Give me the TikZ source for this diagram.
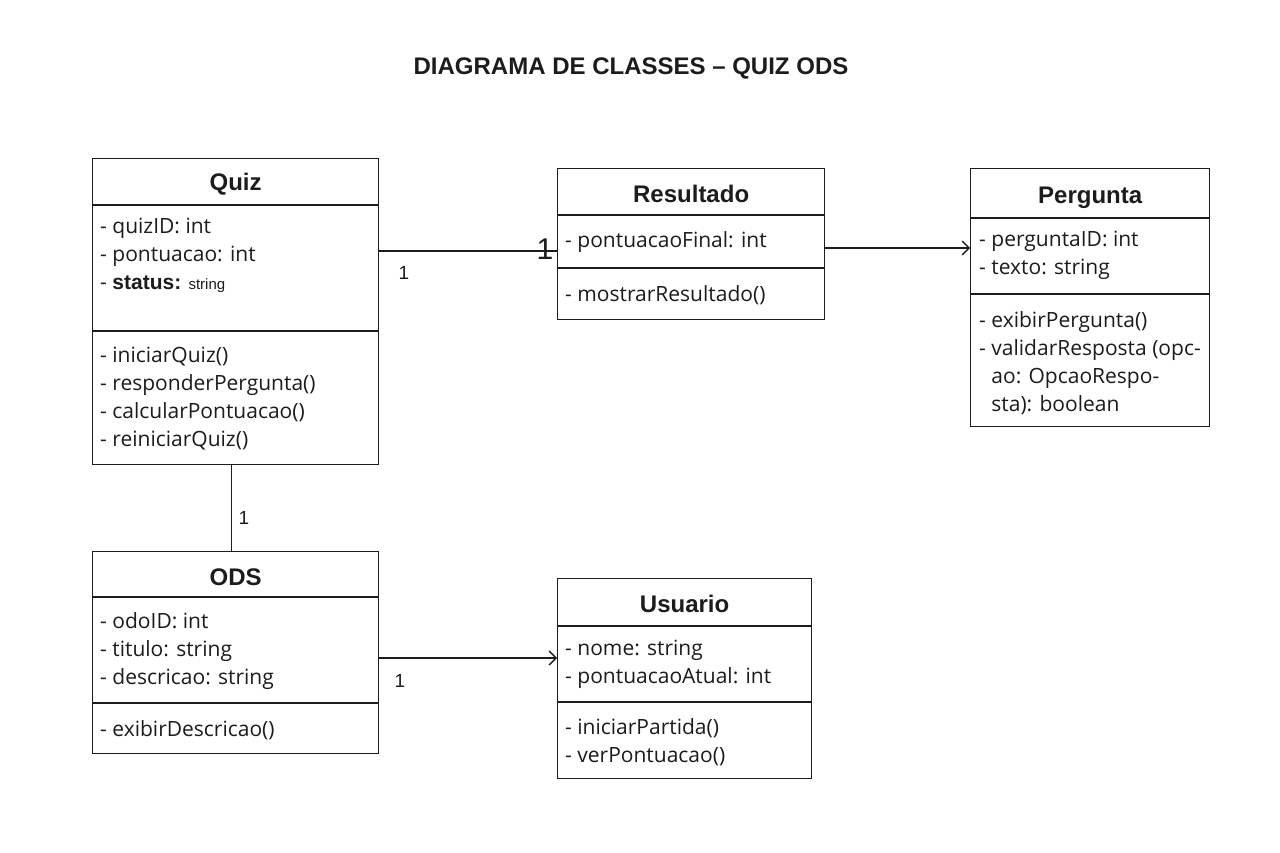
\documentclass[tikz,border=0pt]{standalone}
\usepackage{fontspec}
\setmainfont{Open Sans}
\newfontfamily\headfont{Liberation Sans}
\usetikzlibrary{arrows.meta,positioning,calc}

\definecolor{ink}{HTML}{1C1C1C}

\tikzset{
  classbox/.style={draw=ink, line width=1.3pt, anchor=north west, inner sep=0pt},
  classname/.style={font=\headfont\fontsize{24}{28}\selectfont\bfseries, text=ink},
  member/.style={font=\fontsize{21}{28}\selectfont, text=ink, align=left, anchor=north west, inner sep=0pt},
  mult/.style={font=\headfont\fontsize{19}{22}\selectfont, text=ink, inner sep=0pt},
  sep/.style={draw=ink, line width=1.3pt},
  assoc/.style={draw=ink, line width=1.3pt},
  navig/.style={assoc, -{Straight Barb[length=7pt,width=14pt]}},
}

\begin{document}
\begin{tikzpicture}[x=1pt, y=-1pt]
    \useasboundingbox[fill=white] (0,0) rectangle (1280,853);
    % Title
    \node[font=\headfont\fontsize{24}{28}\selectfont\bfseries, text=ink] (title) at (631,68) {DIAGRAMA DE CLASSES – QUIZ ODS};

    % Quiz
    \node[classbox, minimum width=286pt, minimum height=306pt] (quiz) at (92,158) {};
    \draw[sep] ($(quiz.north west)+(0,47)$) -- ($(quiz.north east)+(0,47)$);
    \draw[sep] ($(quiz.north west)+(0,173)$) -- ($(quiz.north east)+(0,173)$);
    \node[classname] (quiz-name) at ($(quiz.north)+(0,26)$) {Quiz};
    \node[member] (quiz-attr) at ($(quiz.north west)+(8,55.4)$) {\strut- quizID: int\\- pontuacao: int\\- {\headfont\bfseries status:} {\headfont\fontsize{15}{18}\selectfont string}};
    \node[member] (quiz-ops) at ($(quiz.north west)+(8,184.4)$) {\strut- iniciarQuiz()\\- responderPergunta()\\- calcularPontuacao()\\- reiniciarQuiz()};

    % Resultado
    \node[classbox, minimum width=267pt, minimum height=151pt] (res) at (557,168) {};
    \draw[sep] ($(res.north west)+(0,47)$) -- ($(res.north east)+(0,47)$);
    \draw[sep] ($(res.north west)+(0,100)$) -- ($(res.north east)+(0,100)$);
    \node[classname] (res-name) at ($(res.north)+(0,26)$) {Resultado};
    \node[member] (res-attr) at ($(res.north west)+(8,59.4)$) {\strut- pontuacaoFinal: int};
    \node[member] (res-ops) at ($(res.north west)+(8,113.4)$) {\strut- mostrarResultado()};

    % Pergunta
    \node[classbox, minimum width=239pt, minimum height=258pt] (per) at (970,168) {};
    \draw[sep] ($(per.north west)+(0,50)$) -- ($(per.north east)+(0,50)$);
    \draw[sep] ($(per.north west)+(0,126)$) -- ($(per.north east)+(0,126)$);
    \node[classname] (per-name) at ($(per.north)+(0,30)$) {Pergunta};
    \node[member] (per-attr) at ($(per.north west)+(9,58.4)$) {\strut- perguntaID: int\\- texto: string};
    \node[member] (per-ops) at ($(per.north west)+(9,139.4)$) {\strut- exibirPergunta()\\- validarResposta (opc-\\\phantom{- }ao: OpcaoRespo-\\\phantom{- }sta): boolean};

    % ODS
    \node[classbox, minimum width=286pt, minimum height=202pt] (ods) at (92,551) {};
    \draw[sep] ($(ods.north west)+(0,46)$) -- ($(ods.north east)+(0,46)$);
    \draw[sep] ($(ods.north west)+(0,152)$) -- ($(ods.north east)+(0,152)$);
    \node[classname] (ods-name) at ($(ods.north)+(0,26)$) {ODS};
    \node[member] (ods-attr) at ($(ods.north west)+(8,57.4)$) {\strut- odoID: int\\- titulo: string\\- descricao: string};
    \node[member] (ods-ops) at ($(ods.north west)+(8,165.4)$) {\strut- exibirDescricao()};

    % Usuario
    \node[classbox, minimum width=254pt, minimum height=200pt] (usr) at (557,578) {};
    \draw[sep] ($(usr.north west)+(0,48)$) -- ($(usr.north east)+(0,48)$);
    \draw[sep] ($(usr.north west)+(0,124)$) -- ($(usr.north east)+(0,124)$);
    \node[classname] (usr-name) at ($(usr.north)+(0,26)$) {Usuario};
    \node[member] (usr-attr) at ($(usr.north west)+(8,57.4)$) {\strut- nome: string\\- pontuacaoAtual: int};
    \node[member] (usr-ops) at ($(usr.north west)+(8,136.4)$) {\strut- iniciarPartida()\\- verPontuacao()};

    % Associations
    \coordinate (qr) at ($(res.north west)+(0,83)$);
    \draw[assoc] (qr -| quiz.east) -- (qr);
    \node[mult] (qr-m1) at (404,273) {1};
    \node[mult, font=\headfont\fontsize{30}{32}\selectfont] (qr-m2) at (545,249) {1};

    \coordinate (rp) at ($(res.north east)+(0,80)$);
    \draw[navig] (rp) -- (rp -| per.west);

    \draw[assoc] ($(quiz.south)+(-4,0)$) -- ($(ods.north)+(-4,0)$);
    \node[mult] (qo-m) at (244,518) {1};

    \coordinate (ou) at ($(ods.north east)+(0,107)$);
    \draw[navig] (ou) -- (ou -| usr.west);
    \node[mult] (ou-m) at (400,681) {1};
\end{tikzpicture}
\end{document}
